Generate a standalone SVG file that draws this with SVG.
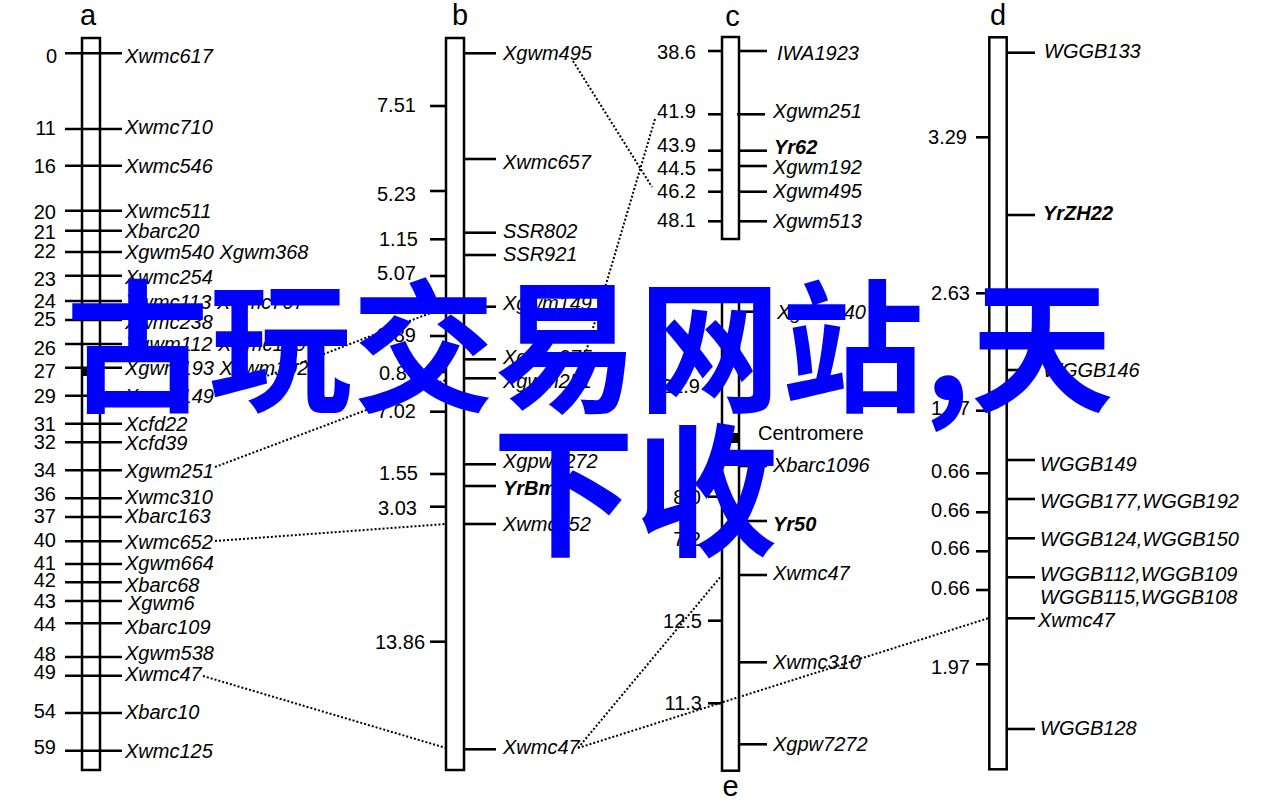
<svg xmlns="http://www.w3.org/2000/svg" width="1269" height="802" viewBox="0 0 1269 802">
<style>
text{font-family:"Liberation Sans",Arial,sans-serif;font-size:20px;fill:#000}
.n{text-anchor:end}
.m{font-style:italic}
.g{font-style:italic;font-weight:bold}
.t{font-size:29px;text-anchor:middle}
.chr{fill:#fff;stroke:#000;stroke-width:2.5}
.tk{stroke:#000;stroke-width:2.6}
.con line{stroke:#000;stroke-width:2;stroke-dasharray:2 2}
.wm{font-family:"Noto Sans CJK SC",sans-serif;font-size:143px;font-weight:bold;fill:#0000ff}
</style>

<g id="chrom-a">
<text class="t" x="88" y="25">a</text>
<rect class="chr" x="82" y="38" width="18" height="732"/>
<rect x="82" y="367" width="18" height="9" fill="#000"/>
<g class="tk">
<line x1="65" y1="53.3" x2="122" y2="53.3"/>
<line x1="65" y1="129" x2="122" y2="129"/>
<line x1="65" y1="165.7" x2="122" y2="165.7"/>
<line x1="65" y1="210.7" x2="122" y2="210.7"/>
<line x1="65" y1="230.7" x2="122" y2="230.7"/>
<line x1="65" y1="252" x2="122" y2="252"/>
<line x1="65" y1="275.7" x2="122" y2="275.7"/>
<line x1="65" y1="301" x2="122" y2="301"/>
<line x1="65" y1="320" x2="122" y2="320"/>
<line x1="65" y1="344" x2="122" y2="344"/>
<line x1="65" y1="367.7" x2="122" y2="367.7"/>
<line x1="65" y1="395.7" x2="122" y2="395.7"/>
<line x1="65" y1="423.7" x2="122" y2="423.7"/>
<line x1="65" y1="442.3" x2="122" y2="442.3"/>
<line x1="65" y1="470.3" x2="122" y2="470.3"/>
<line x1="65" y1="498.3" x2="122" y2="498.3"/>
<line x1="65" y1="517" x2="122" y2="517"/>
<line x1="65" y1="541.3" x2="122" y2="541.3"/>
<line x1="65" y1="564" x2="122" y2="564"/>
<line x1="65" y1="582.3" x2="122" y2="582.3"/>
<line x1="65" y1="601" x2="122" y2="601"/>
<line x1="65" y1="623.3" x2="122" y2="623.3"/>
<line x1="65" y1="657" x2="122" y2="657"/>
<line x1="65" y1="675.7" x2="122" y2="675.7"/>
<line x1="65" y1="713" x2="122" y2="713"/>
<line x1="65" y1="750.7" x2="122" y2="750.7"/>
</g>
<text class="n" x="57" y="63">0</text>
<text class="n" x="56" y="135">11</text>
<text class="n" x="56" y="173">16</text>
<text class="n" x="56" y="219">20</text>
<text class="n" x="56" y="239">21</text>
<text class="n" x="56" y="258">22</text>
<text class="n" x="56" y="286">23</text>
<text class="n" x="56" y="308">24</text>
<text class="n" x="56" y="326">25</text>
<text class="n" x="56" y="355">26</text>
<text class="n" x="56" y="378">27</text>
<text class="n" x="56" y="403">29</text>
<text class="n" x="56" y="431">31</text>
<text class="n" x="56" y="449">32</text>
<text class="n" x="56" y="477">34</text>
<text class="n" x="56" y="501">36</text>
<text class="n" x="56" y="523">37</text>
<text class="n" x="56" y="547">40</text>
<text class="n" x="56" y="570">41</text>
<text class="n" x="56" y="587">42</text>
<text class="n" x="56" y="608">43</text>
<text class="n" x="56" y="631">44</text>
<text class="n" x="56" y="661">48</text>
<text class="n" x="56" y="679">49</text>
<text class="n" x="56" y="718">54</text>
<text class="n" x="56" y="754">59</text>
<text class="m" x="125" y="63">Xwmc617</text>
<text class="m" x="125" y="134">Xwmc710</text>
<text class="m" x="125" y="173">Xwmc546</text>
<text class="m" x="125" y="218">Xwmc511</text>
<text class="m" x="125" y="238">Xbarc20</text>
<text class="m" x="125" y="259">Xgwm540 Xgwm368</text>
<text class="m" x="125" y="284">Xwmc254</text>
<text class="m" x="125" y="309">Xwmc113 Xwmc707</text>
<text class="m" x="125" y="329">Xwmc238</text>
<text class="m" x="125" y="351">Xgwm112 Xwmc179</text>
<text class="m" x="125" y="375">Xgwm193 Xgwm192</text>
<text class="m" x="125" y="403">Xgwm149</text>
<text class="m" x="125" y="431">Xcfd22</text>
<text class="m" x="125" y="450">Xcfd39</text>
<text class="m" x="125" y="478">Xgwm251</text>
<text class="m" x="125" y="504">Xwmc310</text>
<text class="m" x="125" y="523">Xbarc163</text>
<text class="m" x="125" y="549">Xwmc652</text>
<text class="m" x="125" y="570">Xgwm664</text>
<text class="m" x="125" y="592">Xbarc68</text>
<text class="m" x="128" y="610">Xgwm6</text>
<text class="m" x="125" y="634">Xbarc109</text>
<text class="m" x="125" y="660">Xgwm538</text>
<text class="m" x="125" y="681">Xwmc47</text>
<text class="m" x="125" y="719">Xbarc10</text>
<text class="m" x="125" y="758">Xwmc125</text>
</g>

<g id="chrom-b">
<text class="t" x="460" y="25">b</text>
<rect class="chr" x="446" y="38" width="18" height="732"/>
<g class="tk">
<line x1="430" y1="106" x2="446" y2="106"/>
<line x1="430" y1="191" x2="446" y2="191"/>
<line x1="430" y1="239.3" x2="446" y2="239.3"/>
<line x1="430" y1="276" x2="446" y2="276"/>
<line x1="430" y1="336" x2="446" y2="336"/>
<line x1="430" y1="372" x2="446" y2="372"/>
<line x1="430" y1="411.7" x2="446" y2="411.7"/>
<line x1="430" y1="474" x2="446" y2="474"/>
<line x1="430" y1="506.7" x2="446" y2="506.7"/>
<line x1="430" y1="641.7" x2="446" y2="641.7"/>
<line x1="464" y1="53.3" x2="496" y2="53.3"/>
<line x1="464" y1="159" x2="496" y2="159"/>
<line x1="464" y1="232.7" x2="496" y2="232.7"/>
<line x1="464" y1="255" x2="496" y2="255"/>
<line x1="464" y1="306.7" x2="496" y2="306.7"/>
<line x1="464" y1="359.3" x2="496" y2="359.3"/>
<line x1="464" y1="378.3" x2="496" y2="378.3"/>
<line x1="464" y1="464.3" x2="496" y2="464.3"/>
<line x1="464" y1="486" x2="496" y2="486"/>
<line x1="464" y1="524" x2="496" y2="524"/>
<line x1="464" y1="749.3" x2="496" y2="749.3"/>
</g>
<text x="377" y="112">7.51</text>
<text x="377" y="201">5.23</text>
<text x="379" y="246">1.15</text>
<text x="377" y="280">5.07</text>
<text x="377" y="342">3.89</text>
<text x="379" y="380">0.87</text>
<text x="377" y="418">7.02</text>
<text x="379" y="480">1.55</text>
<text x="378" y="515">3.03</text>
<text x="375" y="649">13.86</text>
<text class="m" x="503" y="60">Xgwm495</text>
<text class="m" x="503" y="169">Xwmc657</text>
<text class="m" x="503" y="238">SSR802</text>
<text class="m" x="503" y="261">SSR921</text>
<text class="m" x="503" y="310">Xgwm149</text>
<text class="m" x="503" y="364">Xgwm275</text>
<text class="m" x="503" y="388">Xgwm251</text>
<text class="m" x="503" y="468">Xgpw7272</text>
<text class="g" x="503" y="495">YrBm</text>
<text class="m" x="503" y="531">Xwmc652</text>
<text class="m" x="503" y="754">Xwmc47</text>
</g>

<g id="chrom-c">
<text class="t" x="732.5" y="26">c</text>
<rect class="chr" x="722" y="37" width="17" height="202"/>
<g class="tk">
<line x1="708" y1="51" x2="722" y2="51"/>
<line x1="708" y1="114.3" x2="722" y2="114.3"/>
<line x1="708" y1="150.7" x2="722" y2="150.7"/>
<line x1="708" y1="170" x2="722" y2="170"/>
<line x1="708" y1="191.7" x2="722" y2="191.7"/>
<line x1="708" y1="221.3" x2="722" y2="221.3"/>
<line x1="739" y1="51" x2="767" y2="51"/>
<line x1="737" y1="114.3" x2="765" y2="114.3"/>
<line x1="739" y1="150.7" x2="767" y2="150.7"/>
<line x1="739" y1="166" x2="767" y2="166"/>
<line x1="739" y1="191.7" x2="767" y2="191.7"/>
<line x1="739" y1="221.3" x2="767" y2="221.3"/>
</g>
<text class="n" x="696" y="59">38.6</text>
<text class="n" x="696" y="118">41.9</text>
<text class="n" x="696" y="152">43.9</text>
<text class="n" x="696" y="175">44.5</text>
<text class="n" x="696" y="198">46.2</text>
<text class="n" x="696" y="227">48.1</text>
<text class="m" x="777" y="60">IWA1923</text>
<text class="m" x="773" y="118">Xgwm251</text>
<text class="g" x="774" y="154">Yr62</text>
<text class="m" x="773" y="174">Xgwm192</text>
<text class="m" x="773" y="198">Xgwm495</text>
<text class="m" x="773" y="228">Xgwm513</text>
</g>

<g id="chrom-e">
<rect class="chr" x="722" y="300" width="17" height="470.7"/>
<rect x="722" y="433" width="17" height="10" fill="#000"/>
<g class="tk">
<line x1="708" y1="386" x2="722" y2="386"/>
<line x1="708" y1="496.7" x2="722" y2="496.7"/>
<line x1="708" y1="543" x2="722" y2="543"/>
<line x1="708" y1="620.7" x2="722" y2="620.7"/>
<line x1="708" y1="703.3" x2="722" y2="703.3"/>
<line x1="739" y1="311.7" x2="767" y2="311.7"/>
<line x1="739" y1="466" x2="767" y2="466"/>
<line x1="739" y1="521" x2="767" y2="521"/>
<line x1="739" y1="575" x2="767" y2="575"/>
<line x1="739" y1="662.3" x2="767" y2="662.3"/>
<line x1="739" y1="744.3" x2="767" y2="744.3"/>
</g>
<text class="n" x="700" y="393">21.9</text>
<text class="n" x="701" y="504">8.0</text>
<text class="n" x="701" y="546">7.2</text>
<text class="n" x="702" y="628">12.5</text>
<text class="n" x="702" y="710">11.3</text>
<text x="758" y="440">Centromere</text>
<text class="m" x="777" y="319">Xgwm540</text>
<text class="m" x="773" y="472">Xbarc1096</text>
<text class="g" x="773" y="531">Yr50</text>
<text class="m" x="773" y="580">Xwmc47</text>
<text class="m" x="773" y="669">Xwmc310</text>
<text class="m" x="773" y="751">Xgpw7272</text>
<text class="t" x="730.5" y="796">e</text>
</g>

<g id="chrom-d">
<text class="t" x="998" y="25">d</text>
<rect class="chr" x="989.3" y="37.3" width="17.4" height="732"/>
<g class="tk">
<line x1="976" y1="137.3" x2="989" y2="137.3"/>
<line x1="976" y1="293.3" x2="989" y2="293.3"/>
<line x1="976" y1="410.7" x2="989" y2="410.7"/>
<line x1="976" y1="473.3" x2="989" y2="473.3"/>
<line x1="976" y1="512.3" x2="989" y2="512.3"/>
<line x1="976" y1="551.3" x2="989" y2="551.3"/>
<line x1="976" y1="590" x2="989" y2="590"/>
<line x1="976" y1="664.3" x2="989" y2="664.3"/>
<line x1="1007" y1="52.7" x2="1035" y2="52.7"/>
<line x1="1007" y1="215" x2="1035" y2="215"/>
<line x1="1007" y1="370" x2="1035" y2="370"/>
<line x1="1007" y1="460" x2="1035" y2="460"/>
<line x1="1007" y1="499" x2="1035" y2="499"/>
<line x1="1007" y1="538.3" x2="1035" y2="538.3"/>
<line x1="1007" y1="577.3" x2="1035" y2="577.3"/>
<line x1="1007" y1="618.3" x2="1035" y2="618.3"/>
<line x1="1007" y1="729" x2="1035" y2="729"/>
</g>
<text class="n" x="967" y="144">3.29</text>
<text class="n" x="970" y="300">2.63</text>
<text class="n" x="970" y="415">1.97</text>
<text class="n" x="970" y="478">0.66</text>
<text class="n" x="970" y="517">0.66</text>
<text class="n" x="970" y="555">0.66</text>
<text class="n" x="970" y="595">0.66</text>
<text class="n" x="970" y="674">1.97</text>
<text class="m" x="1044" y="58">WGGB133</text>
<text class="g" x="1043" y="220">YrZH22</text>
<text class="m" x="1043" y="377">WGGB146</text>
<text class="m" x="1040" y="471">WGGB149</text>
<text class="m" x="1040" y="508">WGGB177,WGGB192</text>
<text class="m" x="1040" y="546">WGGB124,WGGB150</text>
<text class="m" x="1040" y="581">WGGB112,WGGB109</text>
<text class="m" x="1040" y="604">WGGB115,WGGB108</text>
<text class="m" x="1038" y="627">Xwmc47</text>
<text class="m" x="1040" y="735">WGGB128</text>
</g>

<g id="connectors" class="con">
<line x1="573" y1="61" x2="652" y2="187"/>
<line x1="655" y1="119" x2="580" y2="372"/>
<line x1="215" y1="396" x2="446" y2="307"/>
<line x1="215" y1="467" x2="446" y2="380"/>
<line x1="215" y1="541" x2="446" y2="524"/>
<line x1="203" y1="676" x2="446" y2="748"/>
<line x1="578" y1="748" x2="722" y2="575"/>
<line x1="578" y1="748" x2="989" y2="618"/>
</g>

<g id="watermark">
<text class="wm" x="66" y="401">古玩交易网站,天</text>
<text class="wm" x="492" y="545">下收</text>
</g>
</svg>
